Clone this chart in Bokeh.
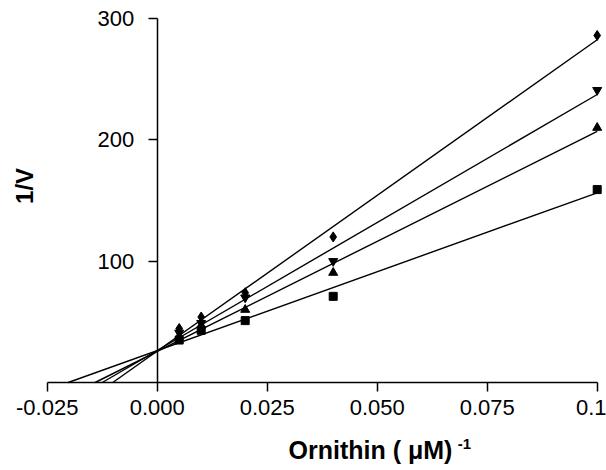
import numpy as np
from bokeh.plotting import figure
from bokeh.models import LinearAxis, FixedTicker, Label, Range1d, NumeralTickFormatter
from bokeh.embed import file_html
from bokeh.resources import INLINE

# data
inv_ornithin = [0.005, 0.01, 0.02, 0.04, 0.1]
inv_v_diamond = [44.5, 54, 74, 120, 286]
inv_v_down = [41, 49, 70, 100, 241]
inv_v_up = [38, 47, 60, 90.5, 210]
inv_v_square = [35, 43, 51, 71, 159]
x_ticks = [-0.025, 0.0, 0.025, 0.05, 0.075, 0.1]
y_ticks = [100, 200, 300]
x_title = "Ornithin ( \u03bcM)"
x_title_sup = "-1"
y_title = "1/V"

FONT = "Liberation Sans"
W, H = 606, 470
# axis extents (data) and where they sit on the canvas (px)
X0, X1, Y0, Y1 = -0.025, 0.1, 0, 300
PX_X0, PX_X1, PX_Y0, PX_Y1 = 46.7, 596.7, 382, 18
kx = (PX_X1 - PX_X0) / (X1 - X0)
ky = (PX_Y0 - PX_Y1) / (Y1 - Y0)
x_range = Range1d(X0 - PX_X0 / kx, X1 + (W - PX_X1) / kx)
y_range = Range1d(Y0 - (H - PX_Y0) / ky, Y1 + PX_Y1 / ky)

p = figure(width=W, height=H, output_backend="svg", toolbar_location=None,
           x_range=x_range, y_range=y_range,
           x_axis_location=None, y_axis_location=None, min_border=0)
p.outline_line_color = None
p.xgrid.visible = False
p.ygrid.visible = False

# x axis along y = 0
xa = LinearAxis(fixed_location=0, bounds=(X0, X1), ticker=FixedTicker(ticks=x_ticks),
                formatter=NumeralTickFormatter(format="0.000"))
xa.major_label_overrides = {0.1: "0.1"}
# y axis along x = 0
ya = LinearAxis(fixed_location=0, bounds=(Y0, Y1), ticker=FixedTicker(ticks=y_ticks))
for ax in (xa, ya):
    ax.axis_line_width = 1.5
    ax.axis_line_color = "black"
    ax.major_tick_line_width = 1.5
    ax.major_tick_line_color = "black"
    ax.major_tick_out = 9
    ax.major_tick_in = 0
    ax.minor_tick_line_color = None
    ax.major_label_text_font = FONT
    ax.major_label_text_font_size = "22px"
    ax.major_label_text_color = "black"
xa.major_label_standoff = 8
ya.major_label_standoff = 14
p.add_layout(xa, "below")
p.add_layout(ya, "left")

series = [
    (inv_v_diamond, "diamond", 10),
    (inv_v_down, "inverted_triangle", 9),
    (inv_v_up, "triangle", 9),
    (inv_v_square, "square", 8),
]
xs = np.array(inv_ornithin)
for ys, marker, size in series:
    m, b = np.polyfit(xs, np.array(ys), 1)
    x0 = -b / m
    p.line([x0, xs.max()], [0, m * xs.max() + b], line_color="black", line_width=1.4)
for ys, marker, size in series:
    p.scatter(inv_ornithin, ys, marker=marker, size=size, fill_color="black",
              line_color="black")

p.add_layout(Label(x=0.0671, y=0, y_offset=-67, text=x_title,
                   text_align="right", text_baseline="middle", text_font=FONT,
                   text_font_size="25px", text_font_style="bold", text_color="black"))
p.add_layout(Label(x=0.0683, y=0, y_offset=-61, text=x_title_sup,
                   text_align="left", text_baseline="middle", text_font=FONT,
                   text_font_size="15px", text_font_style="bold", text_color="black"))
p.add_layout(Label(x=24, x_units="screen", y=162, text=y_title,
                   angle=np.pi / 2, text_align="center", text_baseline="middle",
                   text_font=FONT, text_font_size="24px", text_font_style="bold",
                   text_color="black"))

open("out.html", "w").write(file_html(p, INLINE))
